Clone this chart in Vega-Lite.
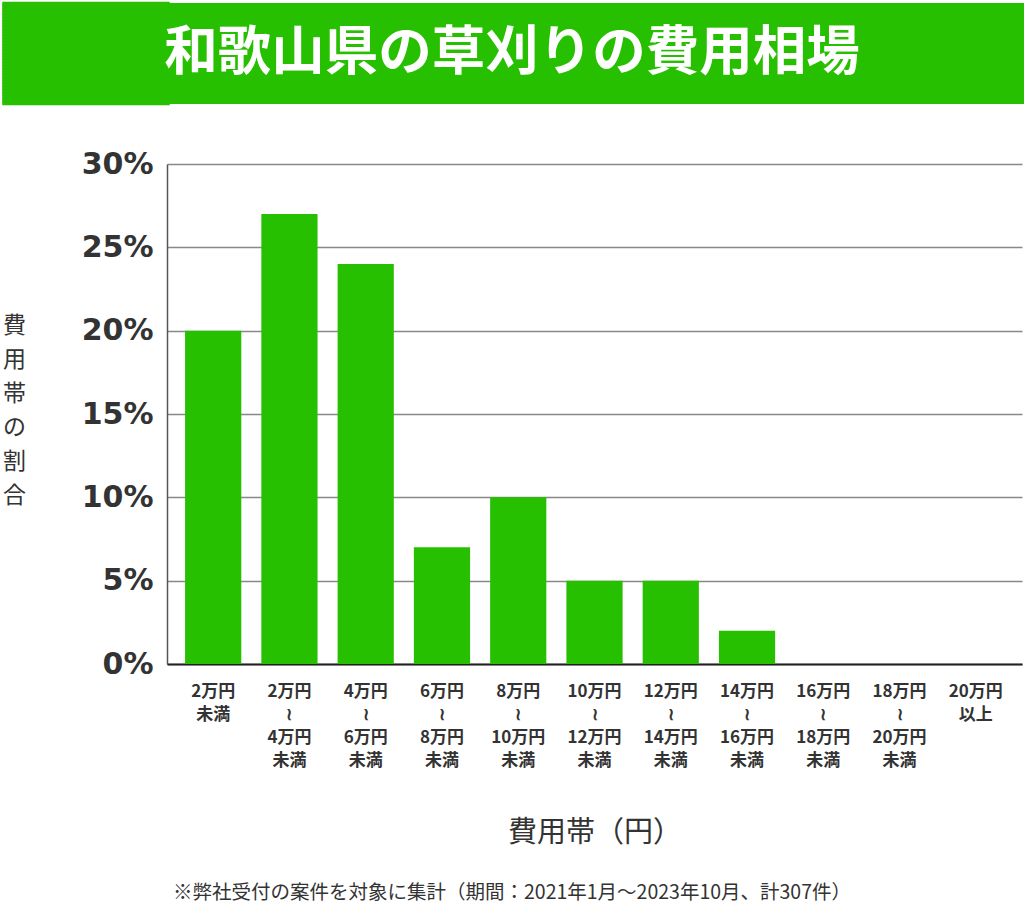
{
  "$schema": "https://vega.github.io/schema/vega-lite/v6.json",
  "padding": 0,
  "background": "white",
  "spacing": 43,
  "vconcat": [
    {
      "width": 857,
      "height": 101,
      "view": {"fill": "#26c000", "stroke": null},
      "data": {"values": [{"t": "和歌山県の草刈りの費用相場", "pos": 50.5}]},
      "mark": {"type": "text", "font": "Noto Sans CJK JP", "fontSize": 53.5, "fontWeight": "bold", "color": "white", "baseline": "middle", "align": "center", "dx": -83.5},
      "encoding": {
        "text": {"field": "t"},
        "y": {
          "field": "pos",
          "type": "quantitative",
          "scale": {"domain": [0, 101], "nice": false, "zero": false},
          "axis": {
            "title": null,
            "values": [1.5, 4.5, 7.5, 10.5, 13.5, 16.5, 19.5, 22.5, 25.5, 28.5, 31.5, 34.5, 37.5, 40.5, 43.5, 46.5, 49.5, 52.5, 55.5, 58.5, 61.5, 64.5, 67.5, 70.5, 73.5, 76.5, 79.5, 82.5, 85.5, 88.5, 91.5, 94.5, 97.5, 100.5],
            "labels": false,
            "domain": false,
            "grid": false,
            "ticks": true,
            "tickSize": 163,
            "tickWidth": 4.5,
            "tickCap": "square",
            "tickRound": false,
            "tickColor": "#26c000"
          }
        }
      }
    },
    {
      "spacing": 35,
      "vconcat": [
        {
          "width": 855,
          "height": 500,
          "view": {"stroke": null},
          "data": {
            "values": [
              {"range": "2万円|未満", "share": 0.20},
              {"range": "2万円|≀|4万円|未満", "share": 0.27},
              {"range": "4万円|≀|6万円|未満", "share": 0.24},
              {"range": "6万円|≀|8万円|未満", "share": 0.07},
              {"range": "8万円|≀|10万円|未満", "share": 0.10},
              {"range": "10万円|≀|12万円|未満", "share": 0.05},
              {"range": "12万円|≀|14万円|未満", "share": 0.05},
              {"range": "14万円|≀|16万円|未満", "share": 0.02},
              {"range": "16万円|≀|18万円|未満", "share": 0},
              {"range": "18万円|≀|20万円|未満", "share": 0},
              {"range": "20万円|以上", "share": 0}
            ]
          },
          "mark": {"type": "bar", "color": "#26c000"},
          "encoding": {
            "x": {
              "field": "range",
              "type": "nominal",
              "sort": null,
              "scale": {"paddingInner": 0.263, "paddingOuter": 0.237},
              "axis": {
                "title": "費用帯（円）",
                "titleFont": "Noto Sans CJK JP",
                "titleFontSize": 29,
                "titleFontWeight": "normal",
                "titleColor": "#333333",
                "titlePadding": 50,
                "labelExpr": "split(datum.label, '|')",
                "labelAngle": 0,
                "labelFont": "Noto Sans CJK JP",
                "labelFontSize": 17,
                "labelFontWeight": "bold",
                "labelColor": "#333333",
                "labelLineHeight": 23,
                "labelPadding": 19,
                "labelBaseline": "top",
                "ticks": false,
                "domain": true,
                "domainColor": "#222222",
                "domainWidth": 2,
                "grid": false
              }
            },
            "y": {
              "field": "share",
              "type": "quantitative",
              "scale": {"domain": [0, 0.3], "nice": false},
              "axis": {
                "values": [0, 0.05, 0.1, 0.15, 0.2, 0.25, 0.3],
                "format": ".0%",
                "title": ["費", "用", "帯", "の", "割", "合"],
                "titleAngle": 0,
                "titleAlign": "center",
                "titleBaseline": "middle",
                "titleX": -153,
                "titleY": 161,
                "titleFont": "Noto Sans CJK JP",
                "titleFontSize": 23,
                "titleFontWeight": "normal",
                "titleColor": "#333333",
                "titleLineHeight": 34,
                "labelFont": "DejaVu Sans",
                "labelFontSize": 30,
                "labelFontWeight": "bold",
                "labelColor": "#333333",
                "labelPadding": 14,
                "ticks": false,
                "domain": true,
                "domainColor": "#555555",
                "domainWidth": 1.5,
                "grid": true,
                "gridColor": "#888888",
                "gridWidth": 1.5
              }
            }
          }
        },
        {
          "width": 690,
          "height": 1,
          "view": {"stroke": null},
          "data": {"values": [{"t": "※弊社受付の案件を対象に集計（期間：2021年1月〜2023年10月、計307件）"}]},
          "mark": {"type": "text", "font": "Noto Sans CJK JP", "fontSize": 19.5, "color": "#333333", "baseline": "middle", "align": "center"},
          "encoding": {"text": {"field": "t"}}
        }
      ]
    }
  ]
}
